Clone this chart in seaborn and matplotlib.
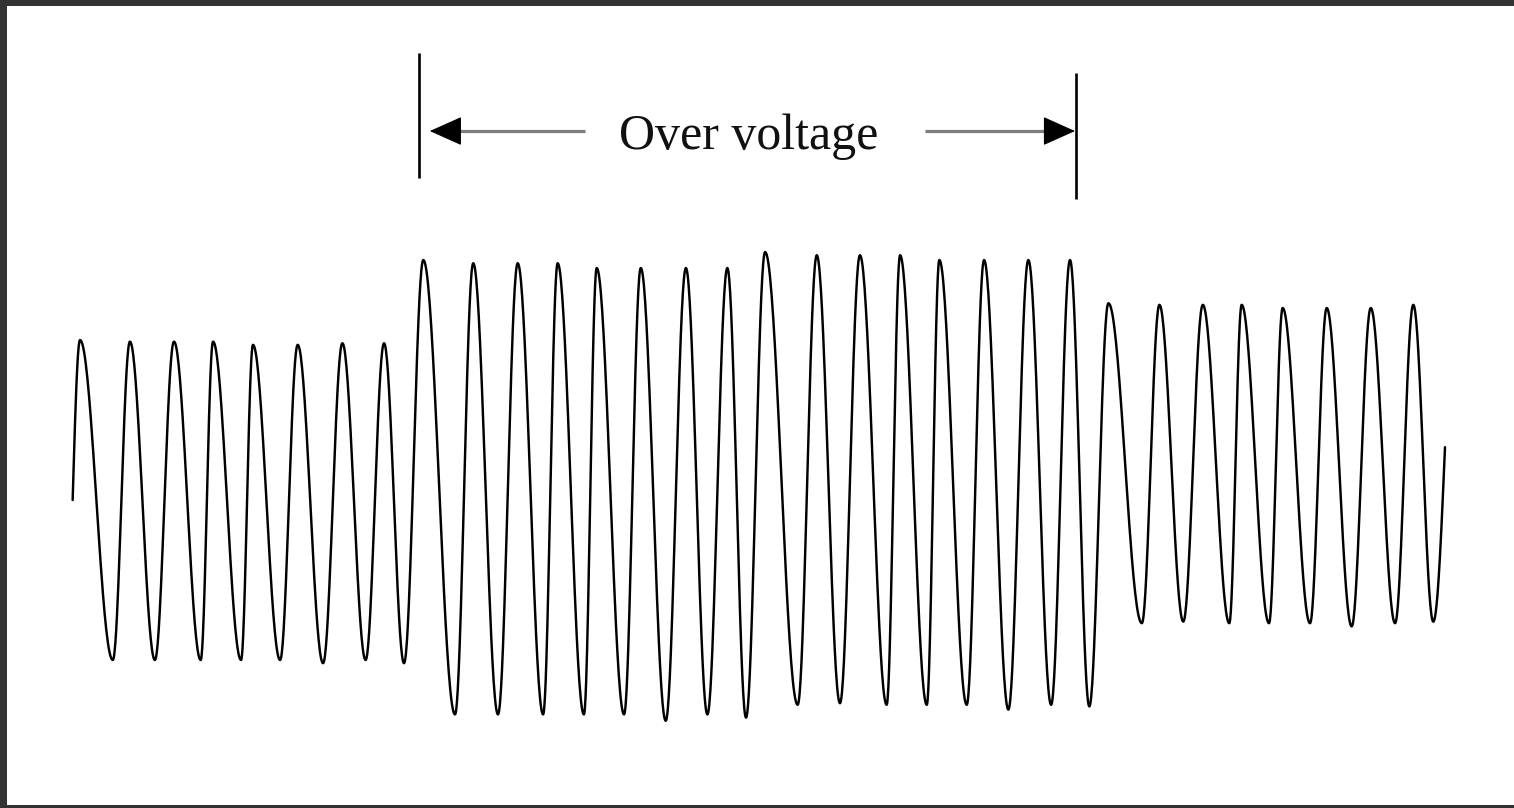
import numpy as np
import pandas as pd
import matplotlib
matplotlib.use("Agg")
import matplotlib.pyplot as plt
import seaborn as sns

# Turning points of the recorded voltage waveform: time (ms) and voltage (p.u.)
# First point is the start of the trace, last point is where the trace ends,
# all others are alternating peaks and troughs.
t_ms = [0.3, 3.7, 18.8, 26.7, 38.2, 47.0, 59.3, 65.0, 77.9, 83.4, 95.9,
        104.0, 115.7, 124.6, 135.3, 143.8, 153.0,
        161.9, 176.5, 184.9, 196.3, 205.4, 217.1, 223.8, 235.9, 241.8, 254.4,
        262.1, 273.6, 282.9, 292.8, 302.0, 310.6, 319.4, 334.4, 343.2, 353.9,
        363.1, 375.4, 381.6, 393.9, 399.7, 412.3, 420.3, 431.5, 440.7, 451.2,
        459.9, 468.8,
        477.6, 493.0, 501.1, 512.1, 521.1, 533.3, 539.0, 551.6, 557.9, 570.5,
        578.2, 589.7, 598.5, 609.7, 618.1, 627.3, 632.7]
v_pu = [0.0, 1.00, -1.00, 0.99, -1.00, 0.99, -1.00, 0.99, -1.00, 0.97, -1.00,
        0.97, -1.02, 0.98, -1.00, 0.98, -1.02,
        1.50, -1.34, 1.48, -1.34, 1.48, -1.34, 1.48, -1.34, 1.45, -1.34,
        1.45, -1.38, 1.45, -1.34, 1.45, -1.36, 1.55, -1.28, 1.53, -1.27,
        1.53, -1.28, 1.53, -1.28, 1.50, -1.28, 1.50, -1.31, 1.50, -1.28,
        1.50, -1.29,
        1.23, -0.77, 1.22, -0.76, 1.22, -0.77, 1.22, -0.77, 1.20, -0.77,
        1.20, -0.79, 1.20, -0.77, 1.22, -0.76, 0.33]

# Over-voltage interval marked above the trace (ms)
ov_start_ms = 159.9
ov_end_ms = 462.7
label = "Over voltage"


def waveform(t, v, n=40):
    """Trace a sinusoidal curve through the turning points."""
    xs, ys = [], []
    last = len(t) - 2
    for i in range(len(t) - 1):
        s = np.linspace(0.0, 1.0, n, endpoint=(i == last))
        if i == 0:
            shape = np.sin(0.5 * np.pi * s)          # rising from the start
        elif i == last:
            shape = 1.0 - np.cos(0.5 * np.pi * s)    # cut off mid-swing
        else:
            shape = 0.5 * (1.0 - np.cos(np.pi * s))  # half cycle
        xs.append(t[i] + (t[i + 1] - t[i]) * s)
        ys.append(v[i] + (v[i + 1] - v[i]) * shape)
    return pd.DataFrame({"t": np.concatenate(xs), "v": np.concatenate(ys)})


sns.set_theme(style="white")
plt.rcParams["font.family"] = ["Liberation Serif", "DejaVu Serif"]

W, H = 1514, 808
fig = plt.figure(figsize=(W / 100, H / 100), dpi=100, facecolor="#333333")
ax = fig.add_axes([7 / W, 3 / H, 1507 / W, 799 / H])
ax.set_facecolor("white")

df = waveform(t_ms, v_pu)
sns.lineplot(data=df, x="t", y="v", sort=False, estimator=None,
             color="black", linewidth=1.75, ax=ax)

ax.set_xlim(-29.95, 664.5)
ax.set_ylim(-1.906, 3.0875)

# Boundary markers of the over-voltage interval
ax.vlines(ov_start_ms, 2.013, 2.794, color="black", linewidth=1.9)
ax.vlines(ov_end_ms, 1.881, 2.669, color="black", linewidth=1.9)

# Arrows pointing out to the interval boundaries: grey shafts, solid heads
arrow_y = 2.306
left_tip, left_tail = ov_start_ms + 5.0, ov_start_ms + 76.5
right_tail, right_tip = ov_end_ms - 69.6, ov_end_ms - 0.5
head_len = 13.0
ax.hlines(arrow_y, left_tip + head_len, left_tail, color="#7d7d7d",
          linewidth=2.3)
ax.hlines(arrow_y, right_tail, right_tip - head_len, color="#7d7d7d",
          linewidth=2.3)
head_kw = dict(arrowstyle="-|>,head_length=1.05,head_width=0.47",
               mutation_scale=20, fc="black", ec="black", lw=0.8,
               shrinkA=0, shrinkB=0)
ax.annotate("", xy=(left_tip, arrow_y), xytext=(left_tip + head_len, arrow_y),
            arrowprops=head_kw)
ax.annotate("", xy=(right_tip, arrow_y),
            xytext=(right_tip - head_len, arrow_y), arrowprops=head_kw)

ax.text((ov_start_ms + ov_end_ms) / 2 + 0.7, 2.194, label,
        ha="center", va="baseline", fontsize=36, color="#111111")

ax.set_xticks([])
ax.set_yticks([])
ax.set_xlabel("")
ax.set_ylabel("")
for sp in ax.spines.values():
    sp.set_visible(False)

fig.savefig("out.png", dpi=100, facecolor=fig.get_facecolor())
